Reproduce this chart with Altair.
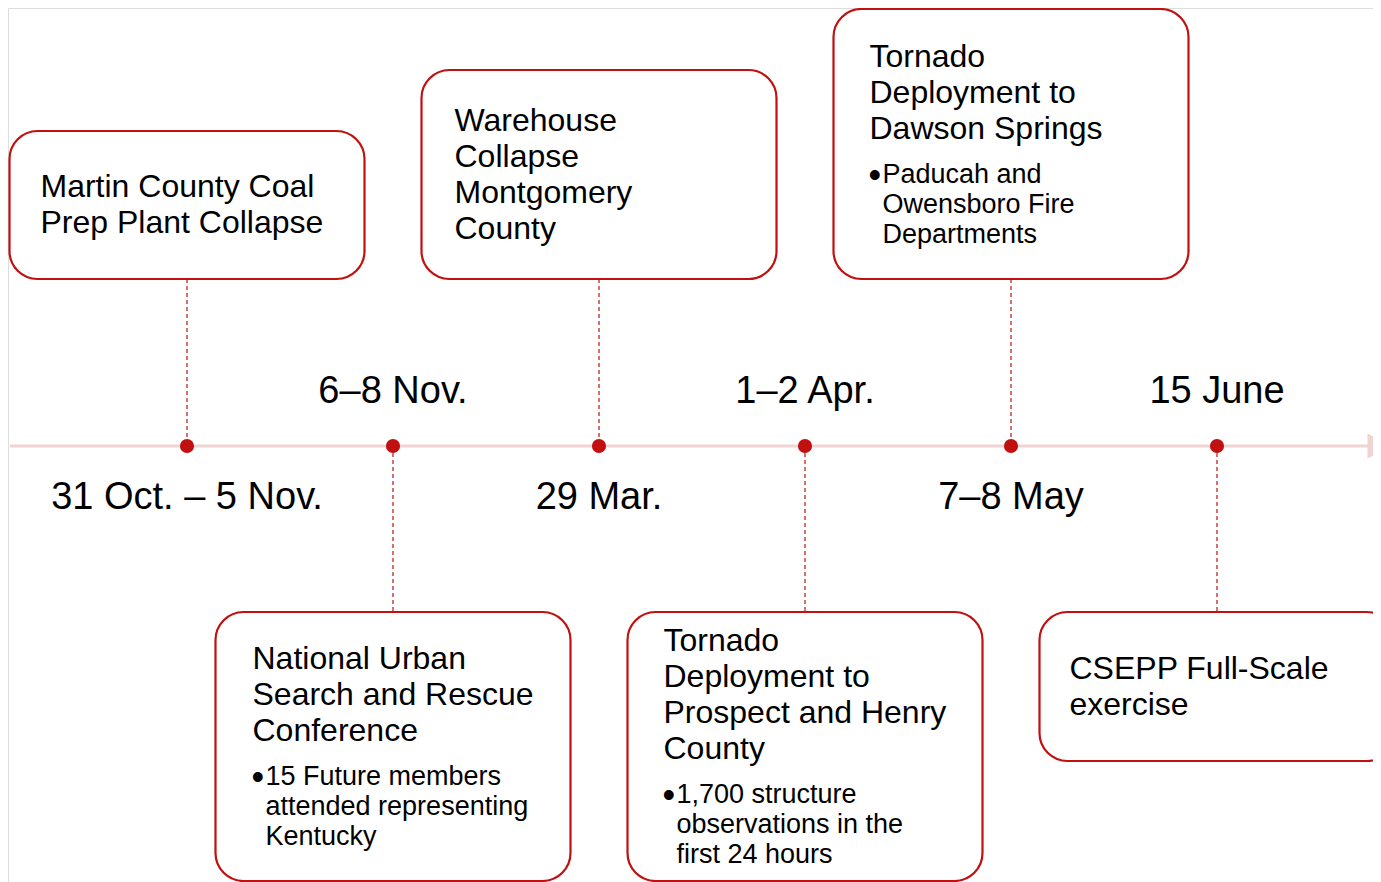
import altair as alt
import pandas as pd

# ---------------- data ----------------
dates = ["31 Oct. – 5 Nov.", "6–8 Nov.", "29 Mar.", "1–2 Apr.", "7–8 May", "15 June"]
titles = [
    ["Martin County Coal", "Prep Plant Collapse"],
    ["National Urban", "Search and Rescue", "Conference"],
    ["Warehouse", "Collapse", "Montgomery", "County"],
    ["Tornado", "Deployment to", "Prospect and Henry", "County"],
    ["Tornado", "Deployment to", "Dawson Springs"],
    ["CSEPP Full-Scale", "exercise"],
]
bullets = [
    [],
    ["15 Future members", "attended representing", "Kentucky"],
    [],
    ["1,700 structure", "observations in the", "first 24 hours"],
    ["Paducah and", "Owensboro Fire", "Departments"],
    [],
]
sides = ["top", "bottom", "top", "bottom", "top", "bottom"]

# ---------------- layout (pixels) ----------------
STEP = 206          # px between events
FIRST = 187         # screen x of first event
LINE_Y = 446        # screen y of timeline
BOX_W = 355
BOX_H = [148, 269, 209, 269, 270, 149]
TOP_GAP = 167       # timeline -> bottom of upper boxes
BOT_GAP = 166       # timeline -> top of lower boxes
TXT_PAD = [31, 37, 33, 36, 36, 30]
TITLE_LH, BUL_LH, GAP = 36, 30, 46
RED = "#C01010"
PINK = "#F0D3D3"

W, H = 1365, 874
XMIN = (8 - FIRST) / STEP
XMAX = XMIN + W / STEP


def px(d):
    return d / STEP


boxes, tlines, blines, bdots, conns, pts, dlab = [], [], [], [], [], [], []
for i in range(len(dates)):
    if sides[i] == "top":
        y2 = LINE_Y - TOP_GAP
        y1 = y2 - BOX_H[i]
        conns.append(dict(x=i, y=y2, y2=LINE_Y))
        dlab.append(dict(x=i, y=LINE_Y + 52, t=dates[i]))
    else:
        y1 = LINE_Y + BOT_GAP
        y2 = y1 + BOX_H[i]
        conns.append(dict(x=i, y=LINE_Y, y2=y1))
        dlab.append(dict(x=i, y=LINE_Y - 54, t=dates[i]))
    boxes.append(dict(x=i - px(BOX_W / 2), x2=i + px(BOX_W / 2), y=y1, y2=y2))
    pts.append(dict(x=i, y=LINE_Y))
    nt, nb = len(titles[i]), len(bullets[i])
    block = 18 + TITLE_LH * (nt - 1) + 18
    if nb:
        block = 18 + TITLE_LH * (nt - 1) + GAP + BUL_LH * (nb - 1) + 15
    cy = (y1 + y2) / 2
    ty = cy - block / 2 + 18
    tx = i - px(BOX_W / 2) + px(TXT_PAD[i])
    for k, t in enumerate(titles[i]):
        tlines.append(dict(x=tx, y=ty + k * TITLE_LH, t=t))
    if nb:
        by = ty + (nt - 1) * TITLE_LH + GAP
        bdots.append(dict(x=tx - px(1), y=by + 1, t="•"))
        for k, t in enumerate(bullets[i]):
            blines.append(dict(x=tx + px(13), y=by + k * BUL_LH, t=t))

xs = alt.Scale(domain=[XMIN, XMAX], nice=False, zero=False)
ys = alt.Scale(domain=[8, 8 + H], nice=False, zero=False, reverse=True)
X = lambda f="x": alt.X(f"{f}:Q", scale=xs, axis=None)
Y = lambda f="y": alt.Y(f"{f}:Q", scale=ys, axis=None)

line_df = pd.DataFrame([dict(x=px(10 - FIRST), x2=px(1372 - FIRST), y=LINE_Y)])
arrow_df = pd.DataFrame([dict(x=px(1380 - FIRST), y=LINE_Y)])

timeline = alt.Chart(line_df).mark_rule(color=PINK, strokeWidth=3).encode(
    x=X(), x2="x2:Q", y=Y()
)
arrow = alt.Chart(arrow_df).mark_point(
    shape="M-1,-1L1,0L-1,1Z", filled=True, color=PINK, opacity=1, size=625
).encode(x=X(), y=Y())

connectors = alt.Chart(pd.DataFrame(conns)).mark_rule(
    color=RED, strokeWidth=1.2, strokeDash=[4, 3]
).encode(x=X(), y=Y(), y2="y2:Q")

rects = alt.Chart(pd.DataFrame(boxes)).mark_rect(
    cornerRadius=28, fill="white", stroke=RED, strokeWidth=2.2
).encode(x=X(), x2="x2:Q", y=Y(), y2="y2:Q")

dots = alt.Chart(pd.DataFrame(pts)).mark_circle(color=RED, opacity=1, size=200).encode(
    x=X(), y=Y()
)

FONT = "Liberation Sans"
date_text = alt.Chart(pd.DataFrame(dlab)).mark_text(
    font=FONT, fontSize=38, color="#000", align="center", baseline="middle"
).encode(x=X(), y=Y(), text="t:N")

title_text = alt.Chart(pd.DataFrame(tlines)).mark_text(
    font=FONT, fontSize=32, color="#000", align="left", baseline="middle"
).encode(x=X(), y=Y(), text="t:N")

bullet_text = alt.Chart(pd.DataFrame(blines)).mark_text(
    font=FONT, fontSize=27, color="#000", align="left", baseline="middle"
).encode(x=X(), y=Y(), text="t:N")

bullet_dots = alt.Chart(pd.DataFrame(bdots)).mark_text(
    font=FONT, fontSize=36, color="#000", align="left", baseline="middle"
).encode(x=X(), y=Y(), text="t:N")

chart = (
    alt.layer(timeline, arrow, connectors, rects, dots, date_text, title_text,
              bullet_text, bullet_dots)
    .properties(width=W, height=H, padding=0,
                autosize=alt.AutoSizeParams(type="none"))
    .configure_view(strokeWidth=0, stroke="transparent", strokeOpacity=0)
    .configure(background="white")
)

chart.save("out.html", embed_options={"renderer": "svg", "actions": False})
